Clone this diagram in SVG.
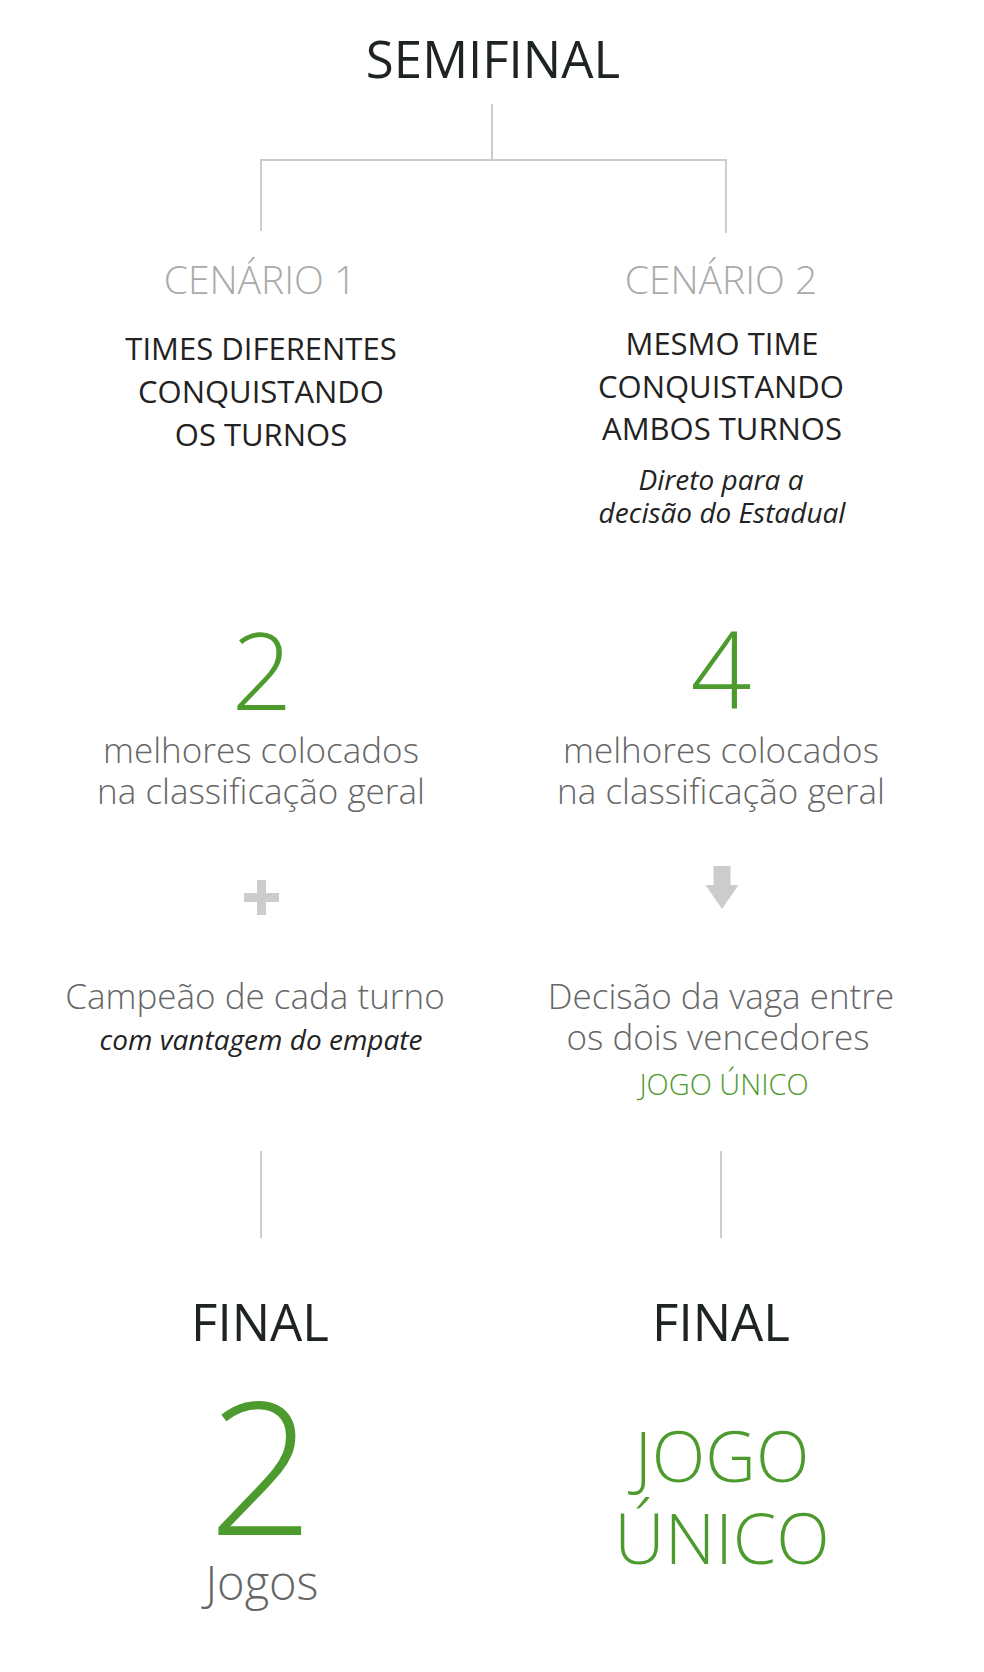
<svg xmlns="http://www.w3.org/2000/svg" width="984" height="1672" viewBox="0 0 984 1672">
<style>
text{font-family:"Open Sans","Noto Sans","Liberation Sans",sans-serif;text-anchor:middle}
.title{font-size:51px;fill:#1e2420;font-weight:400}
.cen{font-size:39px;fill:#aaaaaa;font-weight:300}
.caps{font-size:31px;fill:#222;font-weight:400}
.it{font-size:28px;fill:#222;font-style:italic;font-weight:400}
.big{font-size:107px;fill:#4d9a2e;font-weight:300}
.body{font-size:35px;fill:#666;font-weight:300}
.green{font-size:29px;fill:#4d9a2e;font-weight:300}
.huge{font-size:185px;fill:#4d9a2e;font-weight:300}
.jogo{font-size:70px;fill:#4d9a2e;font-weight:300}
.jogos{font-size:47px;fill:#666;font-weight:300}
.conn{stroke:#cccccc;stroke-width:2;fill:none}
.icon{fill:#cccccc}
</style>
<rect width="984" height="1672" fill="#ffffff"/>
<g id="connectors">
<path class="conn" d="M492 104 V160 M261 160 H726 M261 159 V231 M726 159 V233"/>
<path class="conn" d="M261 1151 V1238 M721 1151 V1238"/>
</g>
<g id="semifinal"><text class="title" x="493" y="78">SEMIFINAL</text></g>
<g id="cenario1">
<text class="cen" x="260" y="294">CENÁRIO 1</text>
<text class="caps" x="261" y="360">TIMES DIFERENTES</text>
<text class="caps" x="261" y="403">CONQUISTANDO</text>
<text class="caps" x="261" y="446">OS TURNOS</text>
</g>
<g id="cenario2">
<text class="cen" x="721" y="294">CENÁRIO 2</text>
<text class="caps" x="722" y="355">MESMO TIME</text>
<text class="caps" x="721" y="398">CONQUISTANDO</text>
<text class="caps" x="722" y="440">AMBOS TURNOS</text>
<text class="it" x="721" y="490">Direto para a</text>
<text class="it" x="722" y="523">decisão do Estadual</text>
</g>
<g id="qtd1">
<text class="big" x="262" y="710">2</text>
<text class="body" x="261" y="763">melhores colocados</text>
<text class="body" x="261" y="804">na classificação geral</text>
</g>
<g id="qtd2">
<text class="big" x="721" y="709">4</text>
<text class="body" x="721" y="763">melhores colocados</text>
<text class="body" x="721" y="804">na classificação geral</text>
</g>
<g id="plus"><path class="icon" d="M257 880 h9 v13 h13 v9 h-13 v13 h-9 v-13 h-13 v-9 h13 z"/></g>
<g id="arrow"><path class="icon" d="M713.5 866 h17 v19 h8 l-16.5 24 l-16.5 -24 h8 z"/></g>
<g id="campeao">
<text class="body" x="255" y="1009">Campeão de cada turno</text>
<text class="it" x="261" y="1050">com vantagem do empate</text>
</g>
<g id="decisao">
<text class="body" x="721" y="1009">Decisão da vaga entre</text>
<text class="body" x="718" y="1050">os dois vencedores</text>
<text class="green" x="724" y="1095">JOGO ÚNICO</text>
</g>
<g id="final1">
<text class="title" x="260" y="1341">FINAL</text>
<text class="huge" x="261" y="1535">2</text>
<text class="jogos" x="262" y="1600">Jogos</text>
</g>
<g id="final2">
<text class="title" x="721" y="1341">FINAL</text>
<text class="jogo" x="722" y="1482">JOGO</text>
<text class="jogo" x="722" y="1564">ÚNICO</text>
</g>
</svg>
